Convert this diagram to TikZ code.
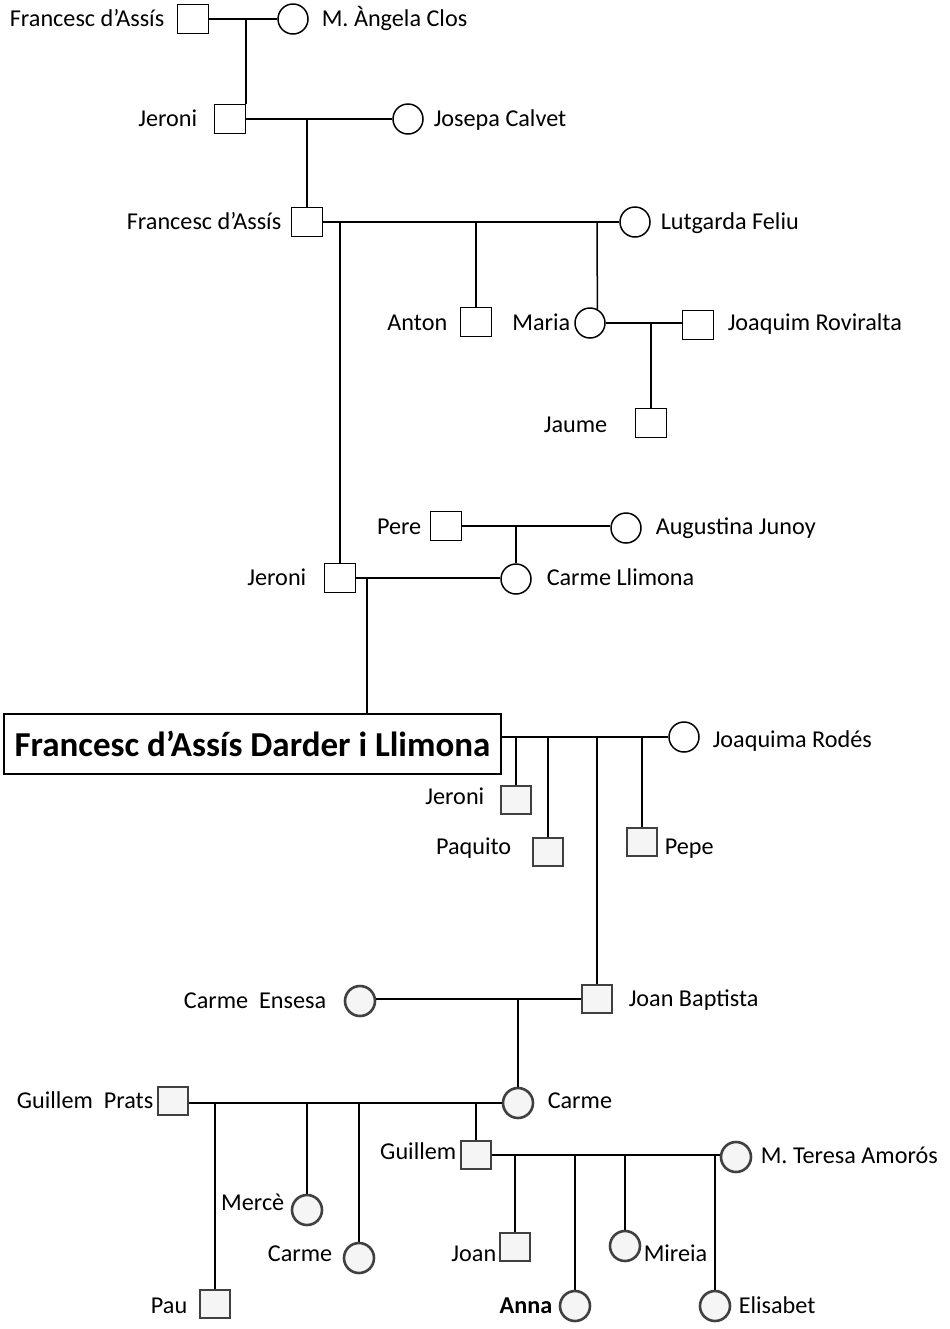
\documentclass[tikz,border=0pt]{standalone}
\usepackage{fontspec}
\setmainfont{Carlito}

\tikzset{
  male/.style={draw, rectangle, minimum width=15.5pt, minimum height=14.5pt, inner sep=0pt},
  female/.style={draw, circle, minimum size=15pt, inner sep=0pt},
  maleg/.style={male, draw=black!75, fill=black!4, line width=1.3pt, minimum width=15pt, minimum height=14pt},
  femaleg/.style={female, draw=black!75, fill=black!4, line width=1.3pt, minimum size=15pt},
  txt/.style={font=\fontsize{12.1}{14}\selectfont, inner sep=0pt, yshift=-1.2pt}
}

\begin{document}
\begin{tikzpicture}[x=0.5pt, y=-0.5pt, line width=0.75pt]

\useasboundingbox (0,0) rectangle (949,1329);

% Generation 1
\node[male] (fa1) at (193,19) {};
\node[female] (ang) at (293,19) {};
\node[txt, anchor=mid east] (fa1-l) at (165,19) {Francesc d’Assís};
\node[txt, anchor=mid west] (ang-l) at (321,19) {M. Àngela Clos};
\draw (fa1) -- (ang);
\coordinate (m1) at (246,19);

% Generation 2
\node[male] (jer1) at (230,119) {};
\node[female] (jos) at (408,119) {};
\node[txt, anchor=mid east] (jer1-l) at (198,119) {Jeroni};
\node[txt, anchor=mid west] (jos-l) at (433,119) {Josepa Calvet};
\draw (m1) -- (m1 |- jer1.north);
\draw (jer1) -- (jos);
\coordinate (m2) at (307,119);

% Generation 3
\node[male] (fra2) at (307,222) {};
\node[female] (lut) at (635,222) {};
\node[txt, anchor=mid east] (fra2-l) at (282,222) {Francesc d’Assís};
\node[txt, anchor=mid west] (lut-l) at (660,222) {Lutgarda Feliu};
\draw (m2) -- (fra2.north);
\draw (fra2) -- (lut);
\coordinate (m3) at (597,222);

% Anton and Maria
\node[male] (ant) at (476,322) {};
\node[female] (mar) at (590,323) {};
\node[male] (joa) at (698,325) {};
\node[txt, anchor=mid east] (ant-l) at (448,323) {Anton};
\node[txt, anchor=mid east] (mar-l) at (571,323) {Maria};
\node[txt, anchor=mid west] (joa-l) at (727,323) {Joaquim Roviralta};
\draw (ant.north) -- (ant.north |- lut);
\draw (m3) -- (mar.62);
\draw (mar.east) -- (mar.east -| joa.west);
\coordinate (m4) at (651,323);

\node[male] (jau) at (651,423) {};
\node[txt, anchor=mid east] (jau-l) at (608,425) {Jaume};
\draw (m4) -- (jau.north);

% Pere and Augustina
\node[male] (per) at (446,526) {};
\node[female] (aug) at (626,528) {};
\node[txt, anchor=mid east] (per-l) at (422,527) {Pere};
\node[txt, anchor=mid west] (aug-l) at (655,527) {Augustina Junoy};
\draw (per.east) -- (per.east -| aug.west);
\coordinate (m5) at (516,526);

% Generation 4
\node[male] (jer2) at (340,578) {};
\node[female] (cll) at (516,579) {};
\node[txt, anchor=mid east] (jer2-l) at (307,578) {Jeroni};
\node[txt, anchor=mid west] (cll-l) at (546,578) {Carme Llimona};
\draw (jer2.north) -- (jer2.north |- fra2);
\draw (m5) -- (cll.north);
\draw (jer2.east) -- (jer2.east -| cll.west);
\coordinate (m6) at (367,578);

% Francesc d'Assis Darder i Llimona
\node[draw, minimum width=248.5pt, minimum height=30pt, inner sep=0pt,
      font=\fontsize{17.5}{20}\selectfont\bfseries] (fdd) at (252.5,744) {Francesc d’Assís Darder i Llimona};
\node[female] (jqr) at (684,737) {};
\node[txt, anchor=mid west] (jqr-l) at (712,740) {Joaquima Rodés};
\draw (m6) -- (m6 |- fdd.north);
\draw (jqr.west -| fdd.east) -- (jqr.west);

% Children of Francesc and Joaquima
\node[maleg] (jer3) at (516,800) {};
\node[maleg] (paq) at (548,852) {};
\node[maleg] (pep) at (642,842) {};
\node[maleg] (jbp) at (597,999) {};
\node[txt, anchor=mid east] (jer3-l) at (485,797) {Jeroni};
\node[txt, anchor=mid east] (paq-l) at (512,847) {Paquito};
\node[txt, anchor=mid west] (pep-l) at (664,847) {Pepe};
\node[txt, anchor=mid west] (jbp-l) at (628,999) {Joan Baptista};
\foreach \n in {jer3, paq, pep, jbp}
  \draw (\n.north) -- (\n.north |- jqr.west);

% Joan Baptista and Carme Ensesa
\node[femaleg] (cen) at (360,1001) {};
\node[txt, anchor=mid east] (cen-l) at (327,1001) {Carme\ \ Ensesa};
\draw (jbp.west) -- (jbp.west -| cen.east);
\node[femaleg] (car1) at (518,1103) {};
\node[txt, anchor=mid west] (car1-l) at (547,1101) {Carme};
\draw (car1.north) -- (car1.north |- jbp.west);

% Guillem Prats and Carme
\node[maleg] (gpr) at (173,1101) {};
\node[txt, anchor=mid east] (gpr-l) at (154,1101) {Guillem\ \ Prats};
\draw (car1.west) -- (car1.west -| gpr.east);

\node[maleg] (pau) at (215,1304) {};
\node[femaleg] (mer) at (307,1210) {};
\node[femaleg] (car2) at (359,1258) {};
\node[maleg] (gui) at (476,1155) {};
\node[txt, anchor=mid east] (pau-l) at (188,1306) {Pau};
\node[txt, anchor=mid east] (mer-l) at (285,1203) {Mercè};
\node[txt, anchor=mid east] (car2-l) at (333,1254) {Carme};
\node[txt, anchor=mid east] (gui-l) at (457,1152) {Guillem};
\foreach \n in {pau, mer, car2, gui}
  \draw (\n.north) -- (\n.north |- car1.west);

% Guillem and M. Teresa
\node[femaleg] (mta) at (736,1157) {};
\node[txt, anchor=mid west] (mta-l) at (760,1156) {M. Teresa Amorós};
\draw (gui.east) -- (gui.east -| mta.west);

\node[maleg] (joan) at (515,1247) {};
\node[femaleg] (anna) at (575,1306) {};
\node[femaleg] (mir) at (625,1246) {};
\node[femaleg] (eli) at (715,1306) {};
\node[txt, anchor=mid east] (joan-l) at (497,1254) {Joan};
\node[txt, anchor=mid east, font=\fontsize{12.1}{14}\selectfont\bfseries] (anna-l) at (553,1306) {Anna};
\node[txt, anchor=mid west] (mir-l) at (643,1254) {Mireia};
\node[txt, anchor=mid west] (eli-l) at (738,1306) {Elisabet};
\foreach \n in {joan, anna, mir, eli}
  \draw (\n.north) -- (\n.north |- gui.east);

\end{tikzpicture}
\end{document}
